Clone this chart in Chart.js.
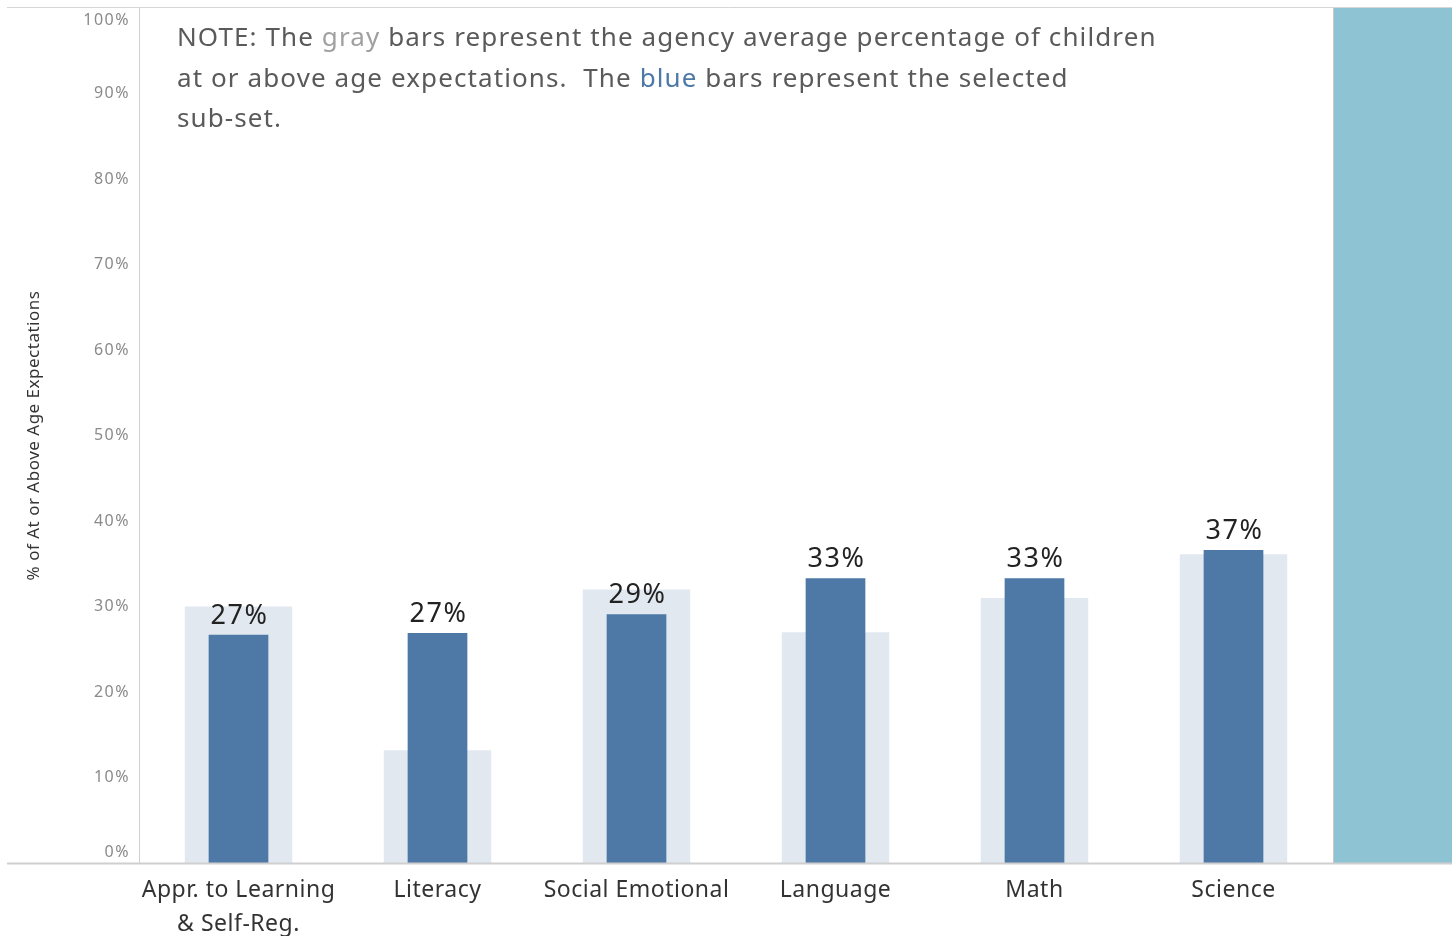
<!DOCTYPE html>
<html>
<head>
<meta charset="utf-8">
<script src="https://cdn.jsdelivr.net/npm/chart.js@4/dist/chart.umd.min.js"></script>
<style>
  html, body { margin: 0; padding: 0; background: #fff; }
  canvas { display: block; }
</style>
</head>
<body>
<canvas id="chart_Domains" width="1452" height="936"></canvas>
<script>
// categories and values
var domains = [["Appr. to Learning", "& Self-Reg."], "Literacy", "Social Emotional", "Language", "Math", "Science"];
var subsetPct = [26.7, 26.9, 29.1, 33.3, 33.3, 36.6];   // blue bars (selected sub-set)
var agencyPct = [30.0, 13.2, 32.0, 27.0, 31.0, 36.1];   // gray bars (agency average)
var yTickValues = [0, 10, 20, 30, 40, 50, 60, 70, 80, 90, 100];
var yTitle = "% of At or Above Age Expectations";

var FONT = "'Noto Sans', 'DejaVu Sans', sans-serif";
var DARK = "#5a5a5a";
var noteLines = [
  [["NOTE: The ", DARK], ["gray", "#a0a0a0"], [" bars represent the agency average percentage of children", DARK]],
  [["at or above age expectations.  The ", DARK], ["blue", "#4e79a7"], [" bars represent the selected", DARK]],
  [["sub-set.", DARK]]
];

var framePlugin = {
  id: "frame",
  beforeDraw: function (chart) {
    var ctx = chart.ctx, a = chart.chartArea, w = chart.width;
    ctx.save();
    ctx.fillStyle = "#fff";
    ctx.fillRect(0, 0, w, chart.height);
    // right-hand pane
    ctx.fillStyle = "#8dc3d3";
    ctx.fillRect(a.right + 1, a.top - 1, w - a.right - 1, a.bottom - a.top + 1);
    ctx.strokeStyle = "#c8c8c8";
    ctx.lineWidth = 1;
    ctx.beginPath();
    ctx.moveTo(a.right + 0.5, a.top - 1);
    ctx.lineTo(a.right + 0.5, a.bottom);
    ctx.stroke();
    ctx.restore();
    // slightly wider letter spacing, closer to the original font
    ctx.letterSpacing = "0.5px";
  },
  afterDraw: function (chart) {
    var ctx = chart.ctx, a = chart.chartArea, w = chart.width;
    var y = chart.scales.y;
    ctx.save();
    // top and bottom rules
    ctx.strokeStyle = "#d6d6d6";
    ctx.lineWidth = 1;
    ctx.beginPath();
    ctx.moveTo(7, a.top - 0.5);
    ctx.lineTo(w, a.top - 0.5);
    ctx.stroke();
    ctx.strokeStyle = "#cfcfcf";
    ctx.lineWidth = 2;
    ctx.beginPath();
    ctx.moveTo(7, a.bottom + 0.5);
    ctx.lineTo(w, a.bottom + 0.5);
    ctx.stroke();

    // y tick labels, kept inside the pane like the original
    ctx.font = "16px " + FONT;
    ctx.letterSpacing = "1.5px";
    ctx.fillStyle = "#8a8a8a";
    ctx.textAlign = "right";
    ctx.textBaseline = "middle";
    yTickValues.forEach(function (v) {
      var py = y.getPixelForValue(v);
      py = Math.max(a.top + 12, Math.min(a.bottom - 11, py));
      ctx.fillText(v + "%", a.left - 9, py);
    });

    // value labels over the blue bars
    var meta = chart.getDatasetMeta(0);
    ctx.font = "27px " + FONT;
    ctx.letterSpacing = "1.5px";
    ctx.fillStyle = "#222";
    ctx.textAlign = "center";
    ctx.textBaseline = "alphabetic";
    meta.data.forEach(function (bar, i) {
      ctx.fillText(Math.round(subsetPct[i]) + "%", bar.x + 1, bar.y - 11);
    });

    // note text
    ctx.font = "26px " + FONT;
    ctx.letterSpacing = "1.1px";
    ctx.textAlign = "left";
    ctx.textBaseline = "middle";
    noteLines.forEach(function (line, li) {
      var x = a.left + 38;
      var ly = 39 + li * 40.5;
      line.forEach(function (seg) {
        ctx.fillStyle = seg[1];
        ctx.fillText(seg[0], x, ly);
        x += ctx.measureText(seg[0]).width;
      });
    });
    ctx.restore();
    ctx.letterSpacing = "0px";
  }
};

new Chart(document.getElementById("chart_Domains"), {
  type: "bar",
  data: {
    labels: domains,
    datasets: [{
      label: "Selected sub-set",
      data: subsetPct,
      backgroundColor: "#4e79a7",
      grouped: false,
      order: 0,
      categoryPercentage: 1,
      barPercentage: 0.30
    }, {
      label: "Agency average",
      data: agencyPct,
      backgroundColor: "#e1e8f0",
      grouped: false,
      order: 1,
      categoryPercentage: 1,
      barPercentage: 0.54
    }]
  },
  options: {
    responsive: false,
    animation: false,
    layout: { padding: { left: 0, right: 119, top: 8, bottom: 0 } },
    plugins: {
      legend: { display: false },
      tooltip: { enabled: false }
    },
    scales: {
      x: {
        grid: { display: false, drawTicks: false },
        border: { display: false },
        ticks: {
          color: "#333",
          font: { family: FONT, size: 23, lineHeight: 1.45 },
          maxRotation: 0,
          minRotation: 0,
          autoSkip: false,
          padding: 11
        },
        afterFit: function (s) { s.height = 73; }
      },
      y: {
        min: 0,
        max: 100,
        grid: { display: false, drawTicks: false },
        border: { display: true, color: "#d0d0d0" },
        ticks: { display: false, stepSize: 10 },
        title: {
          display: true,
          text: yTitle,
          color: "#333",
          font: { family: FONT, size: 17 },
          padding: { top: 24, bottom: 0 }
        },
        afterFit: function (s) { s.width = 139; }
      }
    }
  },
  plugins: [framePlugin]
});
</script>
</body>
</html>
